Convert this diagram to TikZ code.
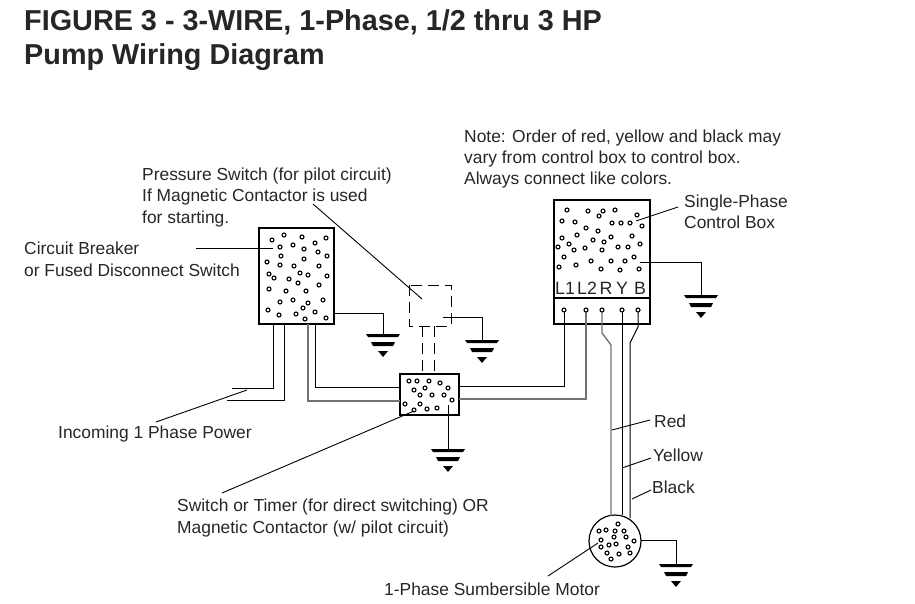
\documentclass[tikz,border=0pt]{standalone}
\usepackage{fontspec}
\setmainfont{Liberation Sans}
\usepackage{tikz}
\tikzset{
	wire/.style={line width=1pt, black},
	greywire/.style={line width=1.4pt, black!55},
	leader/.style={line width=0.9pt, black},
	dashbox/.style={line width=0.9pt, black, dash pattern=on 11pt off 6pt},
	boxline/.style={line width=1.2pt, black},
	label/.style={anchor=base west, inner sep=0pt, font=\fontsize{17.4}{21.3}\selectfont, align=left, text=black!85},
	ttl/.style={anchor=base west, inner sep=0pt, font=\fontsize{28.8}{31}\selectfont\bfseries, text=black!85},
	term/.style={anchor=base, inner sep=0pt, font=\fontsize{17.8}{18}\selectfont, text=black!85},
	gnd/.pic={
		\fill[black] (-17,0) -- (17,0) -- (15,3) -- (-15,3) -- cycle;
		\fill[black] (-12,8) -- (12,8) -- (10,12) -- (-10,12) -- cycle;
		\fill[black] (-5,17) -- (5,17) -- (0,23) -- cycle;
	},
	hole/.style={line width=1.1pt, black, fill=white},
}

\begin{document}
\begin{tikzpicture}[x=1pt, y=-1pt]
	\useasboundingbox (0,0) rectangle (915,604);

	\coordinate[](brA) at (259,228);
	\coordinate[](brB) at (334,324);
	\coordinate[](swA) at (409,285);
	\coordinate[](swB) at (451,326);
	\coordinate[](tmA) at (400,374);
	\coordinate[](tmB) at (459,415);
	\coordinate[](cbA) at (554,200);
	\coordinate[](cbB) at (650,324);
	\coordinate[](cbL) at (554,298);
	\coordinate[](cbR) at (650,298);
	\coordinate[](mot) at (615,541);

	\coordinate[](tL1) at (564,310);
	\coordinate[](tL2) at (586,310);
	\coordinate[](tR) at (602,310);
	\coordinate[](tY) at (622,310);
	\coordinate[](tB) at (638,310);

	\coordinate[](gBr) at (383,334);
	\coordinate[](gSw) at (482,340);
	\coordinate[](gTm) at (448,449);
	\coordinate[](gCb) at (701,295);
	\coordinate[](gMo) at (676,564);

	% Boxes
	\draw[boxline] (brA) rectangle (brB);
	\draw[boxline] (tmA) rectangle (tmB);
	\draw[boxline] (cbA) rectangle (cbB);
	\draw[boxline] (cbL) -- (cbR);
	\draw[boxline] (mot) circle (26);
	\draw[dashbox] (swA) rectangle (swB);

	% Holes
	\foreach \p in {(272,240),(284,235),(302,237),(326,238),(280,247),(293,245),(304,249),(315,243),(318,252),(281,256),(327,256),(304,259),(267,262),(280,265),(294,266),(319,266),(269,274),(274,278),(289,279),(300,273),(308,275),(327,276),(298,283),(319,285),(269,289),(286,291),(306,291),(280,302),(293,300),(308,303),(323,300),(303,308),(268,310),(279,315),(296,314),(305,319),(315,312),(326,318)}
		\draw[hole] \p circle (2);
	\foreach \p in {(409,381),(417,381),(429,381),(440,383),(448,388),(414,390),(425,388),(420,395),(432,395),(444,395),(452,400),(405,404),(420,404),(427,409),(437,408),(414,410)}
		\draw[hole] \p circle (2);
	\foreach \p in {(567,210),(588,211),(603,211),(599,216),(615,210),(637,215),(562,221),(575,222),(612,223),(621,223),(630,223),(642,226),(586,228),(598,231),(577,235),(562,238),(593,240),(611,237),(632,236),(604,242),(569,244),(558,247),(574,250),(585,248),(602,250),(618,247),(628,247),(640,244),(564,257),(634,257),(625,261),(611,261),(591,261),(576,265),(559,267),(601,269),(620,270),(639,269)}
		\draw[hole] \p circle (2);
	\foreach \p in {(618,524),(599,531),(606,530),(615,531),(624,531),(614,537),(626,537),(634,541),(601,540),(601,547),(609,545),(616,544),(628,547),(630,553),(607,553),(619,554),(611,559)}
		\draw[hole] \p circle (2);

	%% Wires
	\draw[wire] (273,324) |- (232,388);
	\draw[wire] (284,324) |- (227,400);
	\draw[greywire] (308,324) |- (400,401);
	\draw[wire] (315,324) |- (400,387);
	\draw[wire] (459,386) -| (tL1);
	\draw[greywire] (459,399) -| (tL2);
	\draw[greywire] (tR) -- (602,333) -- (611,345) -- (611,516);
	\draw[wire] (tY) -- (622,515);
	\draw[wire] (tB) -- (638,327) -- (630,343) -- (630,518);
	\foreach \tm in {tL1,tL2,tR,tY,tB}
		\draw[hole] (\tm) circle (2);

	\draw[dashbox] (422,326) -- (422,374);
	\draw[dashbox] (434,326) -- (434,374);

	%% Ground
	\draw[wire] (334,313) -| (gBr);
	\draw[wire] (443,317) -| (gSw);
	\draw[wire] (448,405) -- (gTm);
	\draw[wire] (640,262) -| (gCb);
	\draw[wire] (641,540) -| (gMo);
	\foreach \gn in {gBr,gSw,gTm,gCb,gMo}
		\pic at (\gn) {gnd};

	%% Leaders
	\draw[leader] (196,248) -- (273,248);
	\draw[leader] (313,204) -- (422,299);
	\draw[leader] (156,422) -- (247,390);
	\draw[leader] (222,493) -- (414,411);
	\draw[leader] (636,221) -- (678,207);
	\draw[leader] (612,430) -- (650,420);
	\draw[leader] (622,468) -- (651,458);
	\draw[leader] (632,499) -- (651,490);
	\draw[leader] (548,576) -- (598,543);

	%% Text
	\node[ttl] (title1) at (24,31) {FIGURE 3 - 3-WIRE, 1-Phase, 1/2 thru 3 HP};
	\node[ttl] (title2) at (24,65) {Pump Wiring Diagram};
	\node[label] (note) at (464,185) {Note: Order of red, yellow and black may\\vary from control box to control box.\\Always connect like colors.};
	\node[label] (press) at (142,223) {Pressure Switch (for pilot circuit)\\If Magnetic Contactor is used\\for starting.};
	\node[label] (breaker) at (24,276) {Circuit Breaker\\or Fused Disconnect Switch};
	\node[label] (single) at (684,229) {Single-Phase\\Control Box};
	\node[label] (incoming) at (58,438) {Incoming 1 Phase Power};
	\node[label] (switch) at (177,533) {Switch or Timer (for direct switching) OR\\Magnetic Contactor (w/ pilot circuit)};
	\node[label] (red) at (654,427) {Red};
	\node[label] (yellow) at (653,461) {Yellow};
	\node[label] (black) at (652,493) {Black};
	\node[label] (motor) at (384,595) {1-Phase Sumbersible Motor};

	\node[term] (L1) at (565,294.5) {L1};
	\node[term] (L2) at (587,294.5) {L2};
	\node[term] (R) at (606,294.5) {R};
	\node[term] (Y) at (622,294.5) {Y};
	\node[term] (B) at (640,294.5) {B};
\end{tikzpicture}
\end{document}
